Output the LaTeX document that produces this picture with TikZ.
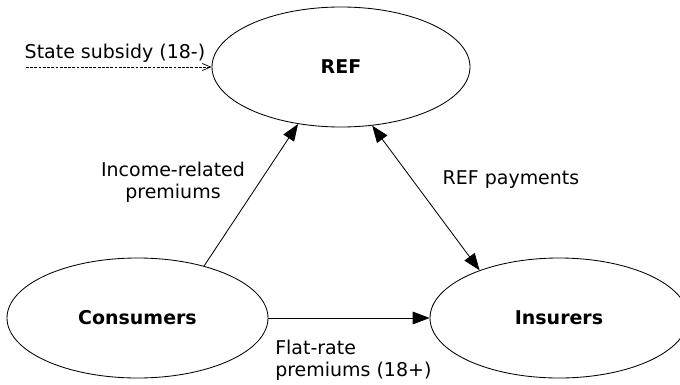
\documentclass[tikz,border=0pt]{standalone}
\usepackage{fontspec}
\setmainfont{DejaVu Sans}
\usetikzlibrary{shapes.geometric,arrows.meta}

\tikzset{
  party/.style={ellipse, draw, line width=0.6pt, minimum width=6.45cm, minimum height=3cm, inner sep=0pt, font=\fontsize{13.5}{15.5}\selectfont\bfseries},
  flow/.style={line width=0.6pt, -{Triangle[length=12pt,width=9pt]}},
  lbl/.style={inner sep=0pt, align=center}
}

\begin{document}
\begin{tikzpicture}[font=\fontsize{13.5}{15.5}\selectfont]
\useasboundingbox (0,0) rectangle (17,9.6);

\node (REF) at (8.525,7.925) [party]{REF};
\node (Cons) at (3.4375,1.65) [party, minimum width=6.525cm]{Consumers};
\node (Ins) at (13.975,1.65) [party]{Insurers};

\coordinate (sub-start) at (0.65,7.925);
\draw [line width=0.5pt, dash pattern=on 2pt off 1pt, -{Straight Barb[length=6pt,width=5pt]}] (sub-start) -- (REF.west);
\node (sub-lbl) at (2.875,8.275) [lbl]{State subsidy (18-)};

\draw [flow] (Cons.38.9) -- (REF.233);
\node (inc-lbl) at (4.325,5.05) [lbl]{Income-related\\premiums};

\draw [flow, {Triangle[length=12pt,width=9pt]}-{Triangle[length=12pt,width=9pt]}] (REF.298.9) -- (Ins.149);
\node (pay-lbl) at (12.775,5.1) [lbl]{REF payments};

\draw [flow] (Cons.east) -- (Ins.west);
\node (flat-lbl) at (6.875,0.6) [lbl, anchor=west, align=left]{Flat-rate\\premiums (18+)};

\end{tikzpicture}
\end{document}
